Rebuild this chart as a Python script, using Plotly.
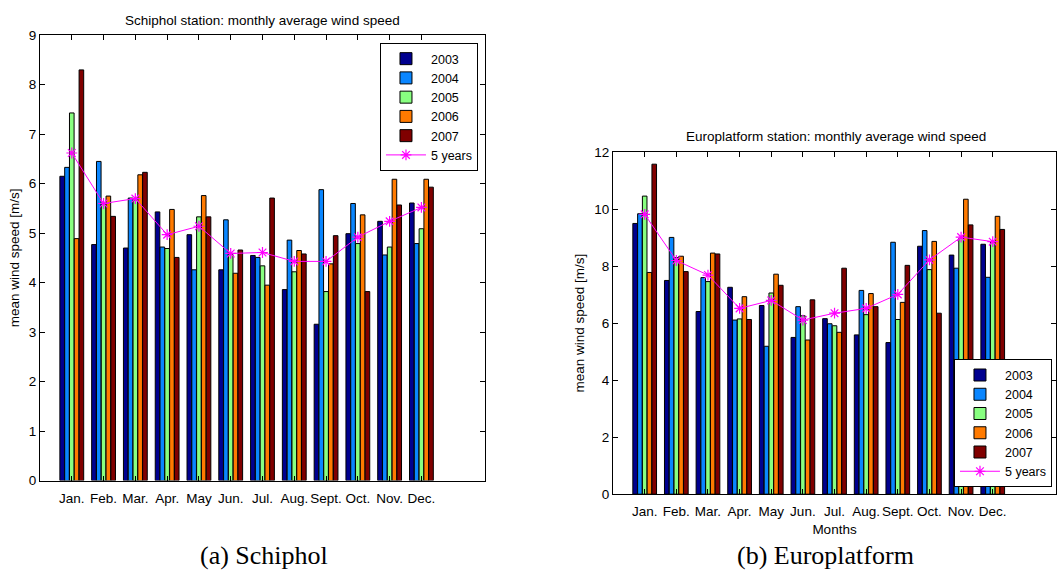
import plotly.graph_objects as go

months = ["Jan.", "Feb.", "Mar.", "Apr.", "May", "Jun.", "Jul.", "Aug.", "Sept.", "Oct.", "Nov.", "Dec."]
month_pos = list(range(1, 13))
years = ["2003", "2004", "2005", "2006", "2007"]
colors = ["#00008F", "#0A86FF", "#88FF80", "#FF7A00", "#800000"]

schiphol_2003 = [6.15, 4.77, 4.70, 5.43, 4.97, 4.26, 4.55, 3.86, 3.16, 4.99, 5.24, 5.61]
schiphol_2004 = [6.33, 6.45, 5.71, 4.72, 4.26, 5.27, 4.51, 4.86, 5.88, 5.60, 4.56, 4.79]
schiphol_2005 = [7.43, 5.60, 5.67, 4.69, 5.33, 4.57, 4.34, 4.22, 3.82, 4.79, 4.72, 5.09]
schiphol_2006 = [4.89, 5.75, 6.18, 5.48, 5.76, 4.19, 3.95, 4.65, 4.38, 5.37, 6.09, 6.09]
schiphol_2007 = [8.30, 5.34, 6.23, 4.51, 5.33, 4.66, 5.71, 4.58, 4.95, 3.82, 5.57, 5.93]
schiphol_5y = [6.62, 5.60, 5.70, 4.97, 5.14, 4.59, 4.61, 4.43, 4.43, 4.92, 5.24, 5.52]

euro_2003 = [9.50, 7.50, 6.41, 7.26, 6.62, 5.50, 6.16, 5.59, 5.32, 8.70, 8.39, 8.77]
euro_2004 = [9.84, 9.01, 7.60, 6.11, 5.19, 6.58, 5.98, 7.15, 8.84, 9.25, 7.93, 7.61]
euro_2005 = [10.46, 8.30, 7.46, 6.15, 7.06, 6.26, 5.91, 6.30, 6.13, 7.88, 8.98, 8.85]
euro_2006 = [7.78, 8.35, 8.46, 6.93, 7.72, 5.41, 5.68, 7.04, 6.73, 8.87, 10.35, 9.75]
euro_2007 = [11.58, 7.81, 8.43, 6.13, 7.33, 6.82, 7.93, 6.58, 8.03, 6.35, 9.45, 9.29]
euro_5y = [9.82, 8.20, 7.69, 6.52, 6.80, 6.11, 6.35, 6.52, 7.01, 8.22, 9.02, 8.86]

schiphol = [schiphol_2003, schiphol_2004, schiphol_2005, schiphol_2006, schiphol_2007]
euro = [euro_2003, euro_2004, euro_2005, euro_2006, euro_2007]

FONT = "Liberation Sans, Arial, sans-serif"
FS = 13.5
LFS = 12.5

fig = go.Figure()

for k, (xa, ya, data, avg, lg) in enumerate([
    ("x", "y", schiphol, schiphol_5y, "legend"),
    ("x2", "y2", euro, euro_5y, "legend2"),
]):
    for yr, col, vals in zip(years, colors, data):
        fig.add_trace(go.Bar(
            x=month_pos, y=vals, name=yr, xaxis=xa, yaxis=ya,
            marker=dict(color=col, line=dict(color="black", width=1)),
            legend=lg, offsetgroup=yr,
        ))
    fig.add_trace(go.Scatter(
        x=month_pos, y=avg, name="5 years", xaxis=xa, yaxis=ya,
        mode="lines+markers",
        line=dict(color="#FF00FF", width=1),
        marker=dict(symbol="asterisk-open", size=9, color="#FF00FF",
                    line=dict(color="#FF00FF", width=1.2)),
        legend=lg,
    ))

axis_common = dict(
    showline=True, linecolor="black", linewidth=1, mirror="allticks",
    ticks="inside", ticklen=5, tickcolor="black", showgrid=False,
    zeroline=False, tickfont=dict(family=FONT, size=FS, color="black"),
)

fig.update_layout(
    width=1061, height=586,
    margin=dict(l=0, r=0, t=0, b=0),
    paper_bgcolor="white", plot_bgcolor="white",
    barmode="group", bargap=0.245, bargroupgap=0.04,
    font=dict(family=FONT, size=FS, color="black"),
    xaxis=dict(domain=[0.0377, 0.4571], range=[0, 14], anchor="y", tickangle=0,
               ticklabelstandoff=5,
               tickmode="array", tickvals=month_pos, ticktext=months, **axis_common),
    yaxis=dict(domain=[0.1706, 0.9505], range=[0, 9], anchor="x",
               tickmode="array", tickvals=list(range(0, 10)),
               title=dict(text="mean wind speed [m/s]", font=dict(family=FONT, size=FS), standoff=6),
               **axis_common),
    xaxis2=dict(domain=[0.5778, 0.9953], range=[0, 14], anchor="y2", tickangle=0,
                ticklabelstandoff=5,
                tickmode="array", tickvals=month_pos, ticktext=months,
                title=dict(text="Months", font=dict(family=FONT, size=FS), standoff=6),
                **axis_common),
    yaxis2=dict(domain=[0.1468, 0.7457], range=[0, 12], anchor="x2",
                tickmode="array", tickvals=list(range(0, 13, 2)),
                title=dict(text="mean wind speed [m/s]", font=dict(family=FONT, size=FS), standoff=6),
                **axis_common),
    legend=dict(x=0.4505, y=0.9369, xanchor="right", yanchor="top",
                bgcolor="white", bordercolor="black", borderwidth=1,
                font=dict(family=FONT, size=LFS), tracegroupgap=0, itemwidth=40),
    legend2=dict(x=0.9915, y=0.1587, xanchor="right", yanchor="bottom",
                 bgcolor="white", bordercolor="black", borderwidth=1,
                 font=dict(family=FONT, size=LFS), tracegroupgap=0, itemwidth=40),
    annotations=[
        dict(text="Schiphol station: monthly average wind speed", xref="paper", yref="paper",
             x=0.2478, y=0.976, xanchor="center", yanchor="middle", showarrow=False,
             font=dict(family=FONT, size=FS)),
        dict(text="Europlatform station: monthly average wind speed", xref="paper", yref="paper",
             x=0.788, y=0.773, xanchor="center", yanchor="middle", showarrow=False,
             font=dict(family=FONT, size=FS)),
        dict(text="(a) Schiphol", xref="paper", yref="paper",
             x=0.2488, y=1 - 563 / 586, xanchor="center", yanchor="middle", showarrow=False,
             font=dict(family="Liberation Serif, serif", size=26)),
        dict(text="(b) Europlatform", xref="paper", yref="paper",
             x=0.7776, y=1 - 563 / 586, xanchor="center", yanchor="middle", showarrow=False,
             font=dict(family="Liberation Serif, serif", size=26)),
    ],
)

fig.write_html("out.html")
